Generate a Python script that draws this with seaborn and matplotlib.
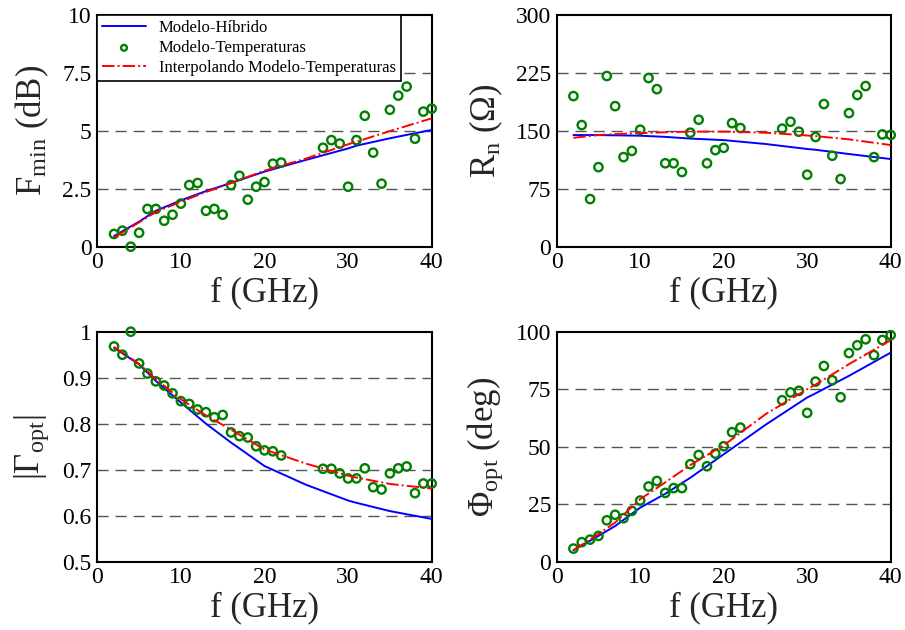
import numpy as np
import pandas as pd
import matplotlib
matplotlib.use("Agg")
import matplotlib.pyplot as plt
import seaborn as sns

# ---------------- data ----------------
freq_pts = [2, 3, 4, 5, 6, 7, 8, 9, 10, 11, 12, 13, 14, 15, 16, 17, 18, 19, 20, 21, 22,
            27, 28, 29, 30, 31, 32, 33, 34, 35, 36, 37, 38, 39, 40]

fmin_pts = [0.55, 0.69, 0.0, 0.60, 1.63, 1.63, 1.12, 1.38, 1.86, 2.66, 2.75, 1.55, 1.63, 1.38,
            2.66, 3.06, 2.03, 2.59, 2.79, 3.58, 3.63,
            4.27, 4.60, 4.45, 2.59, 4.60, 5.65, 4.06, 2.72, 5.91, 6.52, 6.91, 4.66, 5.83, 5.96]
rn_pts = [195, 157.5, 61.7, 103, 221, 182, 116, 124, 151.5, 218.4, 204, 108, 108, 96.7,
          147.6, 164.4, 108, 125, 128, 160, 153.6,
          152.8, 161.8, 148.9, 93.2, 142, 184.7, 117.8, 87.6, 173, 196.4, 208, 116, 145.4, 144.6]
gopt_pts = [0.968, 0.950, 1.0, 0.931, 0.909, 0.892, 0.883, 0.866, 0.849, 0.843, 0.831, 0.825,
            0.814, 0.819, 0.781, 0.773, 0.770, 0.751, 0.742, 0.740, 0.731,
            0.702, 0.702, 0.692, 0.681, 0.681, 0.703, 0.662, 0.657, 0.692, 0.703, 0.707,
            0.649, 0.670, 0.670]
phi_pts = [5.7, 8.5, 9.6, 11.2, 18.0, 20.4, 18.9, 22.1, 26.6, 32.7, 35.1, 29.9, 32.0, 32.0,
           42.4, 46.4, 41.5, 47.0, 50.2, 56.3, 58.3,
           70.2, 73.6, 74.3, 64.7, 78.3, 85.1, 78.9, 71.5, 90.7, 94.1, 96.7, 89.8, 96.4, 98.5]

freq_line = [2, 5, 7, 10, 13, 16, 20, 25, 30, 31, 35, 40]
fmin_hib = [0.46, 1.08, 1.55, 2.0, 2.4, 2.75, 3.24, 3.75, 4.24, 4.36, 4.68, 5.04]
fmin_int = [0.40, 1.05, 1.5, 1.94, 2.36, 2.75, 3.28, 3.81, 4.42, 4.53, 4.99, 5.54]
rn_hib = [144.6, 144.5, 144.2, 143.7, 142.2, 140.0, 138.0, 133.0, 126.5, 125.5, 120.0, 113.5]
rn_int = [141.0, 144.6, 145.8, 147.0, 148.2, 149.0, 149.0, 147.6, 144.0, 143.2, 139.0, 131.6]
gopt_hib = [0.965, 0.929, 0.893, 0.846, 0.800, 0.759, 0.708, 0.667, 0.633, 0.628, 0.610, 0.593]
gopt_int = [0.967, 0.930, 0.897, 0.853, 0.818, 0.787, 0.744, 0.713, 0.687, 0.683, 0.669, 0.659]
phi_hib = [5.0, 11.2, 15.5, 23.5, 29.5, 36.5, 46.7, 59.5, 71.4, 73.2, 80.8, 90.9]
phi_int = [5.0, 12.0, 17.0, 27.2, 34.5, 42.0, 50.6, 64.1, 75.0, 77.0, 85.9, 96.3]

labels = ["Modelo-Híbrido", "Modelo-Temperaturas", "Interpolando Modelo-Temperaturas"]

# ---------------- style ----------------
sns.set_theme(style="white")
plt.rcParams["font.family"] = ["Liberation Serif", "DejaVu Serif"]
plt.rcParams["mathtext.fontset"] = "custom"
plt.rcParams["mathtext.rm"] = "Liberation Serif"
plt.rcParams["mathtext.it"] = "Liberation Serif:italic"

fig = plt.figure(figsize=(9.05, 6.3), dpi=100)
W, H = 905, 630
def add_ax(x0, y0, x1, y1):
    return fig.add_axes([x0 / W, 1 - y1 / H, (x1 - x0) / W, (y1 - y0) / H])

ax1 = add_ax(97.3, 15, 431.7, 246.7)
ax2 = add_ax(556.7, 15, 890.7, 246.7)
ax3 = add_ax(97.3, 331.7, 431.7, 561.7)
ax4 = add_ax(556.7, 331.7, 890.7, 561.7)

panels = [
    (ax1, fmin_pts, fmin_hib, fmin_int, (0, 10), [0, 2.5, 5, 7.5, 10], ["0", "2.5", "5", "7.5", "10"],
     r"F$_{\mathrm{min}}$ (dB)"),
    (ax2, rn_pts, rn_hib, rn_int, (0, 300), [0, 75, 150, 225, 300], ["0", "75", "150", "225", "300"],
     r"R$_{\mathrm{n}}$ ($\Omega$)"),
    (ax3, gopt_pts, gopt_hib, gopt_int, (0.5, 1.0), [0.5, 0.6, 0.7, 0.8, 0.9, 1.0],
     ["0.5", "0.6", "0.7", "0.8", "0.9", "1"], r"|$\Gamma_{\mathrm{opt}}$|"),
    (ax4, phi_pts, phi_hib, phi_int, (0, 100), [0, 25, 50, 75, 100], ["0", "25", "50", "75", "100"],
     r"$\Phi_{\mathrm{opt}}$ (deg)"),
]

for i, (ax, pts, hib, intp, ylim, yt, ytl, ylab) in enumerate(panels):
    for yv in yt[1:-1]:
        ax.axhline(yv, color="#555555", lw=1.0, ls=(0, (8, 5)), zorder=0)
    sns.lineplot(x=freq_line, y=hib, ax=ax, color="#0000ff", lw=1.4,
                 label=labels[0] if i == 0 else None, zorder=3)
    sns.scatterplot(x=freq_pts, y=pts, ax=ax, marker="o", s=36, facecolors="none",
                    edgecolor="#008000", linewidth=1.7,
                    label=labels[1] if i == 0 else None, zorder=4, clip_on=False)
    sns.lineplot(x=freq_line, y=intp, ax=ax, color="#ff0000", lw=1.4, ls="-.",
                 label=labels[2] if i == 0 else None, zorder=5)
    ax.set_xlim(0, 40)
    ax.set_ylim(*ylim)
    ax.set_xticks([0, 10, 20, 30, 40])
    ax.set_xticklabels(["0", "10", "20", "30", "40"])
    ax.set_yticks(yt)
    ax.set_yticklabels(ytl)
    ax.tick_params(axis="both", labelsize=17, length=0, pad=4, colors="black")
    ax.set_xlabel("f (GHz)", fontsize=25, labelpad=2)
    ax.set_ylabel(ylab, fontsize=25, labelpad=8)
    for sp in ax.spines.values():
        sp.set_color("black")
        sp.set_linewidth(1.5)
    if i != 0 and ax.get_legend() is not None:
        ax.get_legend().remove()

leg = ax1.legend(loc="upper left", borderaxespad=0, fancybox=False, framealpha=1,
                 edgecolor="black", fontsize=12, handlelength=2.6, borderpad=0.3,
                 labelspacing=0.25, markerscale=0.7, handletextpad=0.8)
leg.get_frame().set_linewidth(1.2)
for t in leg.get_texts():
    t.set_color("black")

fig.savefig("out.png", dpi=100)
